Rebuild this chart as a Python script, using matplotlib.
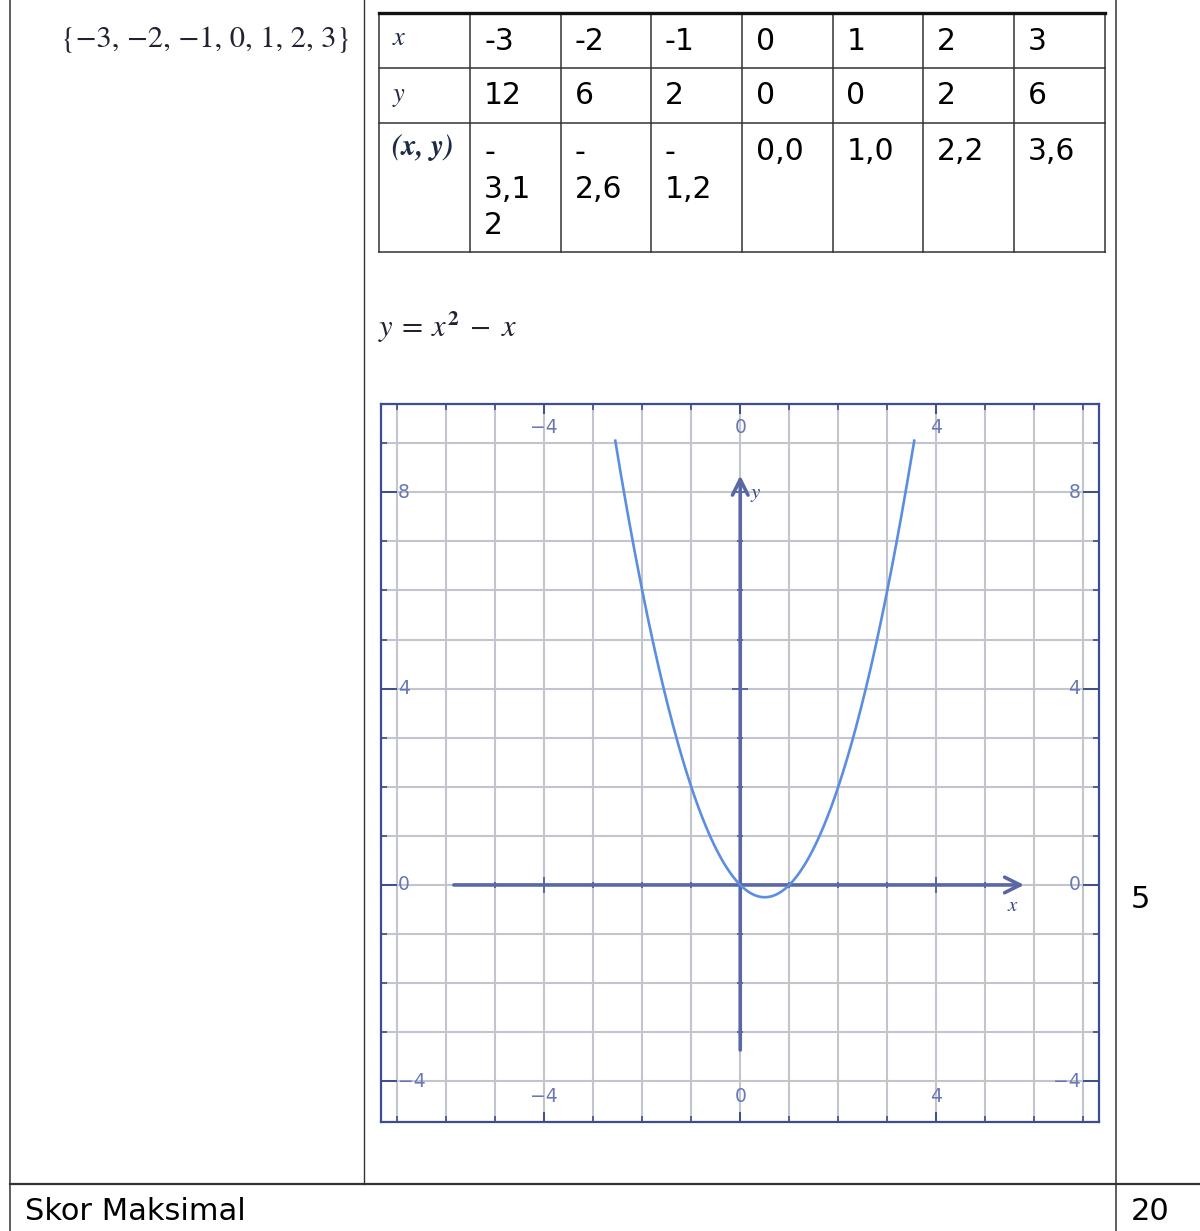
import numpy as np
import matplotlib
matplotlib.use("Agg")
import matplotlib.pyplot as plt

plt.rcParams['mathtext.fontset'] = 'stix'

# table data
x_vals = [-3, -2, -1, 0, 1, 2, 3]
y_vals = [12, 6, 2, 0, 0, 2, 6]
pair_text = ['-\n3,1\n2', '-\n2,6', '-\n1,2', '0,0', '1,0', '2,2', '3,6']
domain_text = '{\u22123, \u22122, \u22121, 0, 1, 2, 3}'
equation_text = r'$y\:=\:x^{\mathbf{2}}\;-\;x$'
score_row = 5
max_label = 'Skor Maksimal'
max_score = 20

# graph settings
curve_x_start, curve_x_end = -2.55, 3.55
axis_x_range = (-5.9, 5.85)
axis_y_range = (-3.42, 8.4)
major_ticks = [-4, 0, 4]
grid_x = list(range(-7, 8))
grid_y = list(range(-4, 10))

fig = plt.figure(figsize=(12, 12.31), dpi=100)

# page layer in pixel coords
bg = fig.add_axes([0, 0, 1, 1])
bg.set_xlim(0, 1200)
bg.set_ylim(1231, 0)
bg.axis('off')

line_c = '#333333'
# outer document table
bg.plot([10, 10], [0, 1231], color=line_c, lw=1.1)
bg.plot([364, 364], [0, 1184], color=line_c, lw=1.0)
bg.plot([1116, 1116], [0, 1231], color=line_c, lw=1.1)
bg.plot([10, 1200], [1184, 1184], color=line_c, lw=1.6)

bg.text(61, 40, domain_text, family='STIXGeneral', fontsize=22, va='center', ha='left',
        color='#222233')

# inner value table
col_edges = [378.5, 470, 560.5, 651, 741.5, 832.5, 923, 1014, 1104.5]
row_edges = [12.5, 67.5, 123, 252]
for xe in col_edges:
    bg.plot([xe, xe], [row_edges[0], row_edges[-1]], color=line_c, lw=1.1)
for j, ye in enumerate(row_edges):
    bg.plot([col_edges[0], col_edges[-1]], [ye, ye], color='#111111' if j == 0 else line_c,
            lw=2.4 if j == 0 else 1.1)

lab_kw = dict(family='STIXGeneral', style='italic', color='#1f2a44', va='center', ha='left')
bg.text(393, 39, 'x', fontsize=19, **lab_kw)
bg.text(393, 95, 'y', fontsize=19, **lab_kw)
bg.text(392, 147, '(x, y)', fontsize=21, weight='bold', **lab_kw)

cell_kw = dict(fontsize=21.5, family='DejaVu Sans', color='black', ha='left', va='center')
for k in range(len(x_vals)):
    cx = col_edges[k + 1] + 14
    bg.text(cx, 41, str(x_vals[k]), **cell_kw)
    bg.text(cx, 96, str(y_vals[k]), **cell_kw)
    for i, part in enumerate(pair_text[k].split('\n')):
        bg.text(cx, 152 + 37 * i, part, **cell_kw)

bg.text(378, 327, equation_text, fontsize=22, va='center', ha='left', color='#222233')

big_kw = dict(fontsize=22, family='DejaVu Sans', color='black', ha='left', va='center')
bg.text(1131, 900, str(score_row), **big_kw)
bg.text(25, 1211, max_label, **big_kw)
bg.text(1131, 1211, str(max_score), **big_kw)

# graph
L, R, T, B = 381, 1099, 403.5, 1122
ax = fig.add_axes([L / 1200, 1 - B / 1231, (R - L) / 1200, (B - T) / 1231])
ax.set_xlim(-7.33, 7.32)
ax.set_ylim(-4.83, 9.81)

navy = '#3d4d8f'
for s in ax.spines.values():
    s.set_color(navy)
    s.set_linewidth(1.6)

grid_c = '#c2c5cd'
for gx in grid_x:
    ax.axvline(gx, color=grid_c, lw=1.5, zorder=1)
for gy in grid_y:
    ax.axhline(gy, color=grid_c, lw=1.5, zorder=1)

ax.set_xticks(major_ticks)
ax.set_xticks(grid_x, minor=True)
ax.set_yticks([-4, 0, 4, 8])
ax.set_yticks(grid_y, minor=True)
ax.tick_params(axis='x', which='major', direction='in', length=7, width=1.4, color=navy,
               top=True, bottom=True, labelbottom=False)
ax.tick_params(axis='x', which='minor', direction='in', length=4.5, width=1.2, color=navy,
               top=True, bottom=True)
ax.tick_params(axis='y', which='major', direction='in', length=11.5, width=1.4, color=navy,
               left=True, right=True, labelleft=False)
ax.tick_params(axis='y', which='minor', direction='in', length=4.5, width=1.2, color=navy,
               left=True, right=True)

tl_c = '#6877b5'
tl_kw = dict(fontsize=13.5, color=tl_c, zorder=5)
for t in major_ticks:
    lab = str(t).replace('-', '\u2212')
    ax.text(t, 9.32, lab, ha='center', va='center', **tl_kw)
    ax.text(t, -4.32, lab, ha='center', va='center', **tl_kw)
for t in [-4, 0, 4, 8]:
    lab = str(t).replace('-', '\u2212')
    ax.text(-6.98, t, lab, ha='left', va='center', **tl_kw)
    ax.text(6.94, t, lab, ha='right', va='center', **tl_kw)

# coordinate axes with arrows
ax_c = '#5a67a6'
ax.annotate('', xy=(axis_x_range[1], 0), xytext=(axis_x_range[0], 0),
            arrowprops=dict(arrowstyle='->', color=ax_c, lw=2.6, mutation_scale=28), zorder=3)
ax.annotate('', xy=(0, axis_y_range[1]), xytext=(0, axis_y_range[0]),
            arrowprops=dict(arrowstyle='->', color=ax_c, lw=2.6, mutation_scale=28), zorder=3)
for t in range(-5, 6):
    ms = 11 if t in major_ticks else 5
    ax.plot(t, 0, marker='|', ms=ms, mew=1.4, color=ax_c, zorder=3)
for t in range(-3, 9):
    ms = 11 if t in [-4, 0, 4, 8] else 5
    ax.plot(0, t, marker='_', ms=ms, mew=1.4, color=ax_c, zorder=3)
ax.text(5.55, -0.43, 'x', family='STIXGeneral', style='italic', fontsize=15,
        color='#3a4680', ha='center', va='center')
ax.text(0.3, 8.0, 'y', family='STIXGeneral', style='italic', fontsize=15,
        color='#3a4680', ha='center', va='center')

# parabola through the table points
coef = np.polyfit(x_vals, y_vals, 2)
xs = np.linspace(curve_x_start, curve_x_end, 300)
ax.plot(xs, np.polyval(coef, xs), color='#5b8ee0', lw=1.9, zorder=4)

fig.savefig('out.png', dpi=100)
